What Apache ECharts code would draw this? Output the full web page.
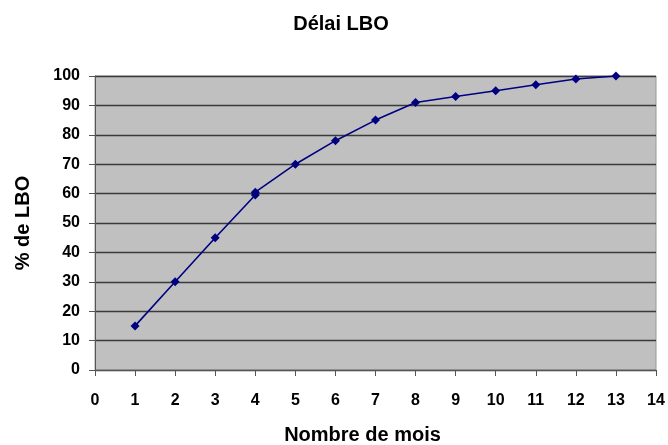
<!DOCTYPE html>
<html><head><meta charset="utf-8">
<script src="https://cdn.jsdelivr.net/npm/echarts@6/dist/echarts.min.js"></script>
<style>html,body{margin:0;padding:0;background:#fff}#c{width:668px;height:445px}</style>
</head><body><div id="c"></div>
<script>
const months = [1, 2, 3, 4, 4, 5, 6, 7, 8, 9, 10, 11, 12, 13];
const pctLBO = [15, 30, 45, 59.5, 60.5, 70, 78, 85, 91, 93, 95, 97, 99, 100];
const titleText = 'Délai LBO';
const xName = 'Nombre de mois';
const yName = '% de LBO';

const chart = echarts.init(document.getElementById('c'), null, {renderer: 'canvas'});
const font = 'Liberation Sans, Arial, sans-serif';
chart.setOption({
  animation: false,
  backgroundColor: '#fff',
  title: {text: titleText, left: 336, top: 9, textAlign: 'center',
    textStyle: {fontFamily: font, fontSize: 20, fontWeight: 'bold', color: '#000'}},
  grid: {left: 95, right: 12, top: 76, bottom: 75, show: true, containLabel: false,
    outerBoundsMode: 'none',
    backgroundColor: '#C0C0C0', borderColor: '#9a9a9a', borderWidth: 1},
  xAxis: {type: 'value', min: 0, max: 14, interval: 1,
    name: xName, nameLocation: 'middle', nameGap: 55,
    nameTextStyle: {fontFamily: font, fontSize: 20, fontWeight: 'bold', color: '#000', padding: [0, 26, 0, 0]},
    axisLine: {show: true, lineStyle: {color: '#555', width: 1}},
    axisTick: {show: true, length: 6, lineStyle: {color: '#555'}},
    axisLabel: {fontFamily: font, fontSize: 16, fontWeight: 'bold', color: '#000', margin: 23},
    splitLine: {show: false}},
  yAxis: {type: 'value', min: 0, max: 100, interval: 10,
    name: yName, nameLocation: 'middle', nameGap: 62, nameRotate: 90,
    nameTextStyle: {fontFamily: font, fontSize: 20, fontWeight: 'bold', color: '#000'},
    axisLine: {show: true, lineStyle: {color: '#555', width: 1}},
    axisTick: {show: true, length: 6, lineStyle: {color: '#555'}},
    axisLabel: {fontFamily: font, fontSize: 16, fontWeight: 'bold', color: '#000', margin: 15},
    splitLine: {show: true, lineStyle: {color: '#3a3a3a', width: 1.3}}},
  series: [{
    type: 'line',
    data: months.map((m, i) => [m, pctLBO[i]]),
    symbol: 'diamond', symbolSize: 9,
    lineStyle: {color: '#000080', width: 1.6},
    itemStyle: {color: '#000080'}
  }]
});
</script></body></html>
